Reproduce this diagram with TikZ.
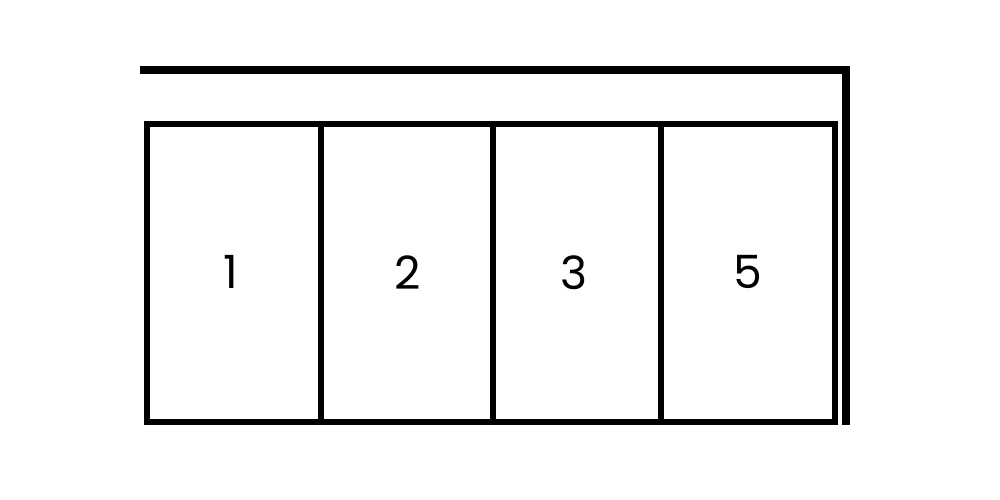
\documentclass[tikz,border=0pt]{standalone}
\usepackage{fontspec}
\setmainfont{Poppins}
\begin{document}
\begin{tikzpicture}[x=1bp,y=-1bp,
  wall/.style={line width=8bp},
  cell/.style={draw,line width=6bp,outer sep=0pt,minimum height=297.5bp,anchor=north west,inner sep=0pt,font=\fontsize{46}{46}\selectfont},
]
\useasboundingbox[fill=white] (0,0) rectangle (1000,500);
\coordinate (wa) at (140,70);
\coordinate (wb) at (846,70);
\coordinate (wc) at (846,425);
\draw[wall,line cap=butt] (wa) -- ([xshift=4bp]wb) ;
\draw[wall] ([yshift=-4bp]wb) -- (wc);
\node[cell,minimum width=174bp] (c1) at (147,124.5) {\raisebox{2bp}{\hspace*{-6bp}1}};
\node[cell,minimum width=172bp] (c2) at (321,124.5) {\raisebox{2bp}{\hspace*{2bp}2}};
\node[cell,minimum width=167.7bp] (c3) at (493,124.5) {\raisebox{2bp}{\hspace*{-6bp}3}};
\node[cell,minimum width=174bp] (c5) at (660.7,124.5) {\raisebox{2bp}{5}};
\end{tikzpicture}
\end{document}
